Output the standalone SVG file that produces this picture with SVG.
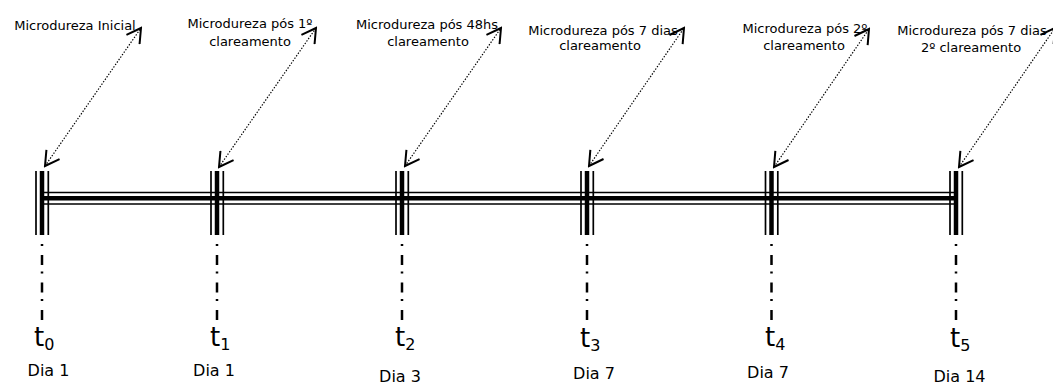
<svg xmlns="http://www.w3.org/2000/svg" width="1053" height="386" viewBox="0 0 1053 386">
  <defs>
    <style>
      .lbl { font-family: "DejaVu Sans", "Liberation Sans", sans-serif; font-size: 13px; fill: #000; text-anchor: middle; }
      .dia { font-family: "DejaVu Sans", "Liberation Sans", sans-serif; font-size: 16px; fill: #000; text-anchor: middle; }
      .tl { font-family: "DejaVu Sans", "Liberation Sans", sans-serif; font-size: 26px; fill: #000; }
      .sub { font-size: 16px; }
      .thin { stroke: #000; stroke-width: 1.7; fill: none; }
      .thick { stroke: #000; stroke-width: 4.5; fill: none; }
      .dd { stroke: #000; stroke-width: 2.5; fill: none; stroke-dasharray: 2 9 10 6.5; }
      .conn { stroke: #000; stroke-width: 1.2; fill: none; stroke-dasharray: 1.4 1.6; marker-start: url(#ah); marker-end: url(#ah); }
    </style>
    <marker id="ah" viewBox="0 0 18 18" refX="16" refY="9" markerWidth="18" markerHeight="18" markerUnits="userSpaceOnUse" orient="auto-start-reverse">
      <path d="M2,1 L16,9 L2,17" fill="none" stroke="#000" stroke-width="2" stroke-dasharray="none"/>
    </marker>
  </defs>
  <rect width="1053" height="386" fill="#fff"/>

  <g id="timeline">
    <line class="thin" x1="42" y1="192.5" x2="956" y2="192.5"/>
    <line class="thick" x1="42" y1="198.3" x2="956" y2="198.3"/>
    <line class="thin" x1="42" y1="204" x2="956" y2="204"/>
  </g>

  <g id="t0">
    <line class="thin" x1="36" y1="171" x2="36" y2="235"/>
    <line class="thick" x1="42" y1="171" x2="42" y2="235"/>
    <line class="thin" x1="48.3" y1="171" x2="48.3" y2="235"/>
    <line class="dd" x1="42" y1="244" x2="42" y2="320"/>
    <text class="tl" x="34" y="346">t<tspan class="sub" dy="4">0</tspan></text>
    <text class="dia" x="48.5" y="376">Dia 1</text>
  </g>
  <g id="t1">
    <line class="thin" x1="211" y1="171" x2="211" y2="235"/>
    <line class="thick" x1="217" y1="171" x2="217" y2="235"/>
    <line class="thin" x1="223.3" y1="171" x2="223.3" y2="235"/>
    <line class="dd" x1="217" y1="244" x2="217" y2="320"/>
    <text class="tl" x="210" y="346">t<tspan class="sub" dy="4">1</tspan></text>
    <text class="dia" x="214" y="376">Dia 1</text>
  </g>
  <g id="t2">
    <line class="thin" x1="396" y1="171" x2="396" y2="235"/>
    <line class="thick" x1="402" y1="171" x2="402" y2="235"/>
    <line class="thin" x1="408.3" y1="171" x2="408.3" y2="235"/>
    <line class="dd" x1="402" y1="244" x2="402" y2="320"/>
    <text class="tl" x="395" y="346">t<tspan class="sub" dy="4">2</tspan></text>
    <text class="dia" x="400" y="382">Dia 3</text>
  </g>
  <g id="t3">
    <line class="thin" x1="581" y1="171" x2="581" y2="235"/>
    <line class="thick" x1="587" y1="171" x2="587" y2="235"/>
    <line class="thin" x1="593.3" y1="171" x2="593.3" y2="235"/>
    <line class="dd" x1="587" y1="244" x2="587" y2="320"/>
    <text class="tl" x="580" y="347">t<tspan class="sub" dy="4">3</tspan></text>
    <text class="dia" x="594" y="379">Dia 7</text>
  </g>
  <g id="t4">
    <line class="thin" x1="765.5" y1="171" x2="765.5" y2="235"/>
    <line class="thick" x1="771.5" y1="171" x2="771.5" y2="235"/>
    <line class="thin" x1="777.8" y1="171" x2="777.8" y2="235"/>
    <line class="dd" x1="771.5" y1="244" x2="771.5" y2="320"/>
    <text class="tl" x="765" y="346">t<tspan class="sub" dy="4">4</tspan></text>
    <text class="dia" x="768" y="378">Dia 7</text>
  </g>
  <g id="t5">
    <line class="thin" x1="950" y1="171" x2="950" y2="235"/>
    <line class="thick" x1="956" y1="171" x2="956" y2="235"/>
    <line class="thin" x1="962.3" y1="171" x2="962.3" y2="235"/>
    <line class="dd" x1="956" y1="244" x2="956" y2="320"/>
    <text class="tl" x="950" y="347">t<tspan class="sub" dy="4">5</tspan></text>
    <text class="dia" x="959.5" y="382">Dia 14</text>
  </g>

  <g id="m0"><text class="lbl" x="75" y="30">Microdureza Inicial</text></g>
  <g id="m1"><text class="lbl" x="250" y="28">Microdureza pós 1º</text><text class="lbl" x="250" y="46">clareamento</text></g>
  <g id="m2"><text class="lbl" x="427" y="29">Microdureza pós 48hs</text><text class="lbl" x="428" y="46">clareamento</text></g>
  <g id="m3"><text class="lbl" x="603" y="35">Microdureza pós 7 dias</text><text class="lbl" x="600" y="50">clareamento</text></g>
  <g id="m4"><text class="lbl" x="805" y="33">Microdureza pós 2º</text><text class="lbl" x="804" y="50">clareamento</text></g>
  <g id="m5"><text class="lbl" x="972" y="35">Microdureza pós 7 dias</text><text class="lbl" x="971" y="52">2º clareamento</text></g>

  <g id="connectors">
    <line class="conn" x1="45" y1="166" x2="141" y2="28"/>
    <line class="conn" x1="219" y1="167" x2="316" y2="28"/>
    <line class="conn" x1="405" y1="166" x2="501" y2="28"/>
    <line class="conn" x1="589" y1="166" x2="684" y2="28"/>
    <line class="conn" x1="774" y1="167" x2="869" y2="29"/>
    <line class="conn" x1="959" y1="167" x2="1055" y2="28"/>
  </g>
</svg>
